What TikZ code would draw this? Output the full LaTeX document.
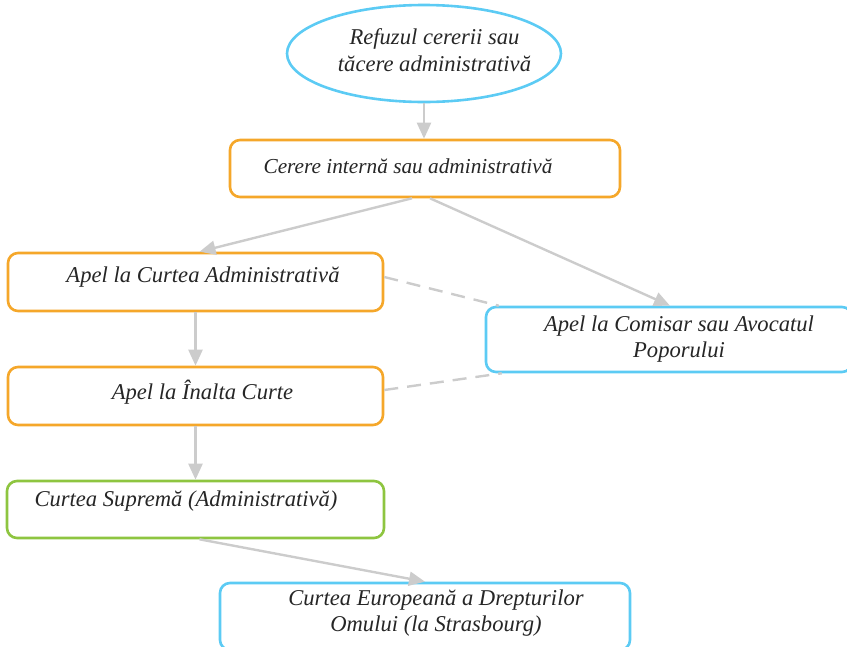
\documentclass[tikz,border=0pt]{standalone}
\usepackage{fontspec}
\setmainfont{Liberation Serif}
\usetikzlibrary{shapes.geometric,arrows.meta}
\definecolor{ocol}{HTML}{F5A72A}
\definecolor{bcol}{HTML}{5CCBF4}
\definecolor{gcol}{HTML}{8EC540}
\definecolor{acol}{HTML}{CCCCCC}
\tikzset{
  boxbase/.style={draw, rounded corners=10pt, line width=2.6pt, fill=white},
  obox/.style={boxbase, draw=ocol},
  bbox/.style={boxbase, draw=bcol},
  gbox/.style={boxbase, draw=gcol},
  lbl/.style={font=\fontsize{22.6}{26.5}\selectfont\itshape, align=center, inner sep=0pt, text=black!85},
  slbl/.style={font=\fontsize{21.3}{26}\selectfont\itshape, align=center, inner sep=0pt, text=black!85},
  arr/.style={draw=acol, line width=2.4pt, -{Triangle[length=16pt,width=14pt]}},
  dsh/.style={draw=acol, line width=2.4pt, dash pattern=on 14pt off 9pt},
}
\begin{document}
\begin{tikzpicture}[x=1pt,y=-1pt]
\useasboundingbox (0,0) rectangle (847,646);
% shapes
\node[ellipse, draw=bcol, line width=2.6pt, minimum width=274pt, minimum height=97pt, inner sep=0pt] (e) at (424,53.5) {};
\node[obox, minimum width=390pt, minimum height=57pt] (b1) at (425,168.5) {};
\node[obox, minimum width=375pt, minimum height=58pt] (b2) at (195.5,282) {};
\node[obox, minimum width=375pt, minimum height=58pt] (b3) at (195.5,396) {};
\node[gbox, minimum width=377pt, minimum height=57pt] (b4) at (195.5,509.5) {};
\node[bbox, minimum width=366pt, minimum height=65pt] (b5) at (669,339.5) {};
\node[bbox, minimum width=410pt, minimum height=67pt] (b6) at (425,616.5) {};
% texts
\node[lbl] (te) at (434.5,50) {Refuzul cererii sau\\tăcere administrativă};
\node[slbl] (t1) at (408,166) {Cerere internă sau administrativă};
\node[lbl] (t2) at (203,277) {Apel la Curtea Administrativă};
\node[lbl] (t3) at (202.5,392) {Apel la Înalta Curte};
\node[lbl] (t4) at (186,501) {Curtea Supremă (Administrativă)};
\node[lbl] (t5) at (679,339) {Apel la Comisar sau Avocatul\\Poporului};
\node[lbl] (t6) at (436,613) {Curtea Europeană a Drepturilor\\Omului (la Strasbourg)};
% connectors
\draw[arr] (e.south) -- (e.south |- b1.north);
\draw[arr] ([xshift=-13pt]b1.south) -- ([xshift=4pt]b2.north);
\draw[arr] ([xshift=5pt]b1.south) -- ([xshift=1pt]b5.north);
\draw[arr] (b2.south) -- (b3.north);
\draw[arr] (b3.south) -- (b4.north);
\draw[arr] ([xshift=4pt]b4.south) -- (b6.north);
\draw[dsh] ([yshift=5pt]b2.east) -- ([xshift=14pt]b5.north west);
\draw[dsh] ([yshift=6pt]b3.east) -- ([xshift=17pt]b5.south west);
\end{tikzpicture}
\end{document}
